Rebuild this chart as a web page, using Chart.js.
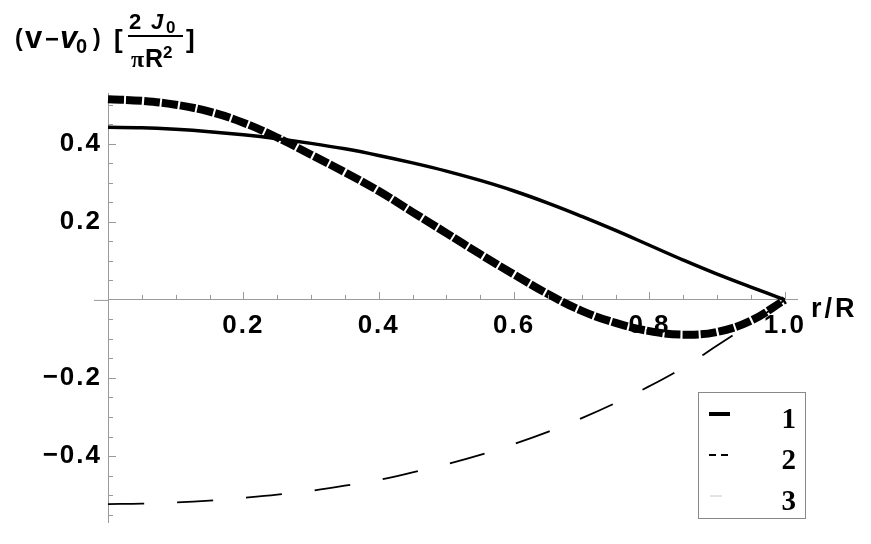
<!DOCTYPE html>
<html>
<head>
<meta charset="utf-8">
<script src="https://cdn.jsdelivr.net/npm/chart.js@4.4.1/dist/chart.umd.min.js"></script>
<style>
  html, body { margin: 0; padding: 0; background: #fff; }
  #wrap { width: 871px; height: 544px; position: relative; }
</style>
</head>
<body>
<div id="wrap"><canvas id="flowChart"></canvas></div>
<script>
'use strict'

// r/R sample points
const radius = [0, 0.05, 0.1, 0.15, 0.2, 0.25, 0.3, 0.35, 0.4, 0.45, 0.5,
                0.55, 0.6, 0.65, 0.7, 0.75, 0.8, 0.85, 0.9, 0.95, 1.0];

// curve 1 (solid)
const curve1 = [0.442, 0.441, 0.437, 0.431, 0.423, 0.413, 0.401, 0.387, 0.370, 0.351, 0.330,
                0.306, 0.279, 0.248, 0.214, 0.178, 0.140, 0.102, 0.066, 0.033, 0];
// curve 2 (thick dashed)
const curve2 = [0.514, 0.510, 0.500, 0.482, 0.454, 0.416, 0.372, 0.327, 0.279, 0.225, 0.171,
                0.117, 0.065, 0.015, -0.028, -0.059, -0.080, -0.089, -0.082, -0.053, 0];
// curve 3 (long dashed)
const curve3 = [-0.523, -0.522, -0.519, -0.514, -0.507, -0.499, -0.489, -0.476, -0.461, -0.442, -0.421,
                -0.397, -0.369, -0.338, -0.303, -0.264, -0.221, -0.173, -0.117, -0.060, 0];

const xTickLabels = [0.2, 0.4, 0.6, 0.8, 1.0];
const yTickLabels = [-0.4, -0.2, 0.2, 0.4];
const legendLabels = ['1', '2', '3'];

const sans = '"Liberation Sans", Arial, sans-serif';
const serif = '"Liberation Serif", "Times New Roman", serif';

function points(ys) {
    return radius.map((r, i) => ({ x: r, y: ys[i] }));
}

// minor ticks every 0.05
function minorTicks(min, max) {
    const out = [];
    for (let k = Math.ceil(min / 0.05); k * 0.05 <= max + 1e-9; k++) {
        out.push(Math.round(k * 5) / 100);
    }
    return out;
}

// ticks, axis label, legend
const decorPlugin = {
    id: 'decor',
    beforeDraw(chart) {
        // the tick labels are spaced wider than plain Arial
        chart.ctx.letterSpacing = '2px';
    },
    afterDraw(chart) {
        const ctx = chart.ctx;
        const xs = chart.scales.x;
        const ys = chart.scales.y;
        const x0 = xs.getPixelForValue(0);
        const y0 = ys.getPixelForValue(0);
        const isMajor = (v, list) => list.some(t => Math.abs(t - v) < 1e-6);

        ctx.save();
        ctx.letterSpacing = '0px';
        ctx.strokeStyle = '#9a9a9a';
        ctx.lineWidth = 1;
        ctx.beginPath();
        // small stub of x axis left of y axis
        ctx.moveTo(x0 - 14, y0 + 0.5);
        ctx.lineTo(x0, y0 + 0.5);
        minorTicks(-0.55, 0.5).forEach(v => {
            if (Math.abs(v) < 1e-6) return;
            const py = Math.round(ys.getPixelForValue(v)) + 0.5;
            const len = isMajor(v, yTickLabels) ? 8 : 5;
            ctx.moveTo(x0, py);
            ctx.lineTo(x0 + len, py);
        });
        minorTicks(0.05, 1.0).forEach(v => {
            const px = Math.round(xs.getPixelForValue(v)) + 0.5;
            const len = isMajor(v, xTickLabels) ? 8 : 5;
            ctx.moveTo(px, y0);
            ctx.lineTo(px, y0 - len);
        });
        ctx.stroke();

        // y axis label: (v - v0) [2 J0 / pi R^2]
        ctx.fillStyle = '#000';
        ctx.textBaseline = 'alphabetic';
        ctx.textAlign = 'left';
        ctx.font = 'bold 23px ' + sans;
        ctx.fillText('(', 15, 46);
        ctx.font = 'bold 31px ' + sans;
        ctx.fillText('v', 25, 48);
        ctx.font = 'bold 24px ' + sans;
        ctx.fillText('\u2212', 45, 47);
        ctx.font = 'italic bold 31px ' + sans;
        ctx.fillText('v', 60, 48);
        ctx.font = 'bold 20px ' + sans;
        ctx.fillText('0', 76, 53);
        ctx.font = 'bold 23px ' + sans;
        ctx.fillText(')', 93, 46);
        ctx.font = 'bold 26px ' + sans;
        ctx.fillText('[', 114, 48);
        ctx.fillText(']', 186, 48);
        ctx.font = 'bold 22px ' + sans;
        ctx.fillText('2', 129, 29);
        ctx.font = 'italic bold 22px ' + sans;
        ctx.fillText('J', 151, 29);
        ctx.font = 'bold 17px ' + sans;
        ctx.fillText('0', 166, 33);
        ctx.fillRect(128, 35, 55, 2);
        ctx.font = 'bold 24px ' + serif;
        ctx.fillText('\u03c0', 131, 67);
        ctx.font = 'bold 25px ' + sans;
        ctx.fillText('R', 145, 67);
        ctx.font = 'bold 17px ' + sans;
        ctx.fillText('2', 163, 58);

        // x axis label
        ctx.font = 'bold 27px ' + sans;
        ctx.letterSpacing = '3px';
        ctx.fillText('r/R', 811, 317);
        ctx.letterSpacing = '0px';

        // legend
        const bx = 698, by = 392, bw = 107, bh = 126;
        ctx.fillStyle = '#fff';
        ctx.fillRect(bx, by, bw, bh);
        ctx.strokeStyle = '#888';
        ctx.lineWidth = 1;
        ctx.strokeRect(bx + 0.5, by + 0.5, bw, bh);
        const rows = [414, 455, 496];
        ctx.lineCap = 'butt';
        // 1
        ctx.strokeStyle = '#000';
        ctx.lineWidth = 4;
        ctx.beginPath(); ctx.moveTo(709, rows[0]); ctx.lineTo(730, rows[0]); ctx.stroke();
        // 2
        ctx.lineWidth = 2;
        ctx.setLineDash([7, 5]);
        ctx.beginPath(); ctx.moveTo(709, rows[1]); ctx.lineTo(728, rows[1]); ctx.stroke();
        ctx.setLineDash([]);
        // 3
        ctx.strokeStyle = '#c8c8c8';
        ctx.lineWidth = 1;
        ctx.beginPath(); ctx.moveTo(710, rows[2]); ctx.lineTo(722, rows[2]); ctx.stroke();

        ctx.fillStyle = '#000';
        ctx.font = 'bold 29px ' + serif;
        ctx.textAlign = 'right';
        ctx.textBaseline = 'alphabetic';
        legendLabels.forEach((t, i) => ctx.fillText(t, 796, rows[i] + 14));
        ctx.restore();
    }
};

const ctx = document.getElementById('flowChart').getContext('2d');
const flowChart = new Chart(ctx, {
    type: 'line',
    data: {
        datasets: [
            {
                label: legendLabels[1],
                data: points(curve2),
                borderColor: '#000',
                borderWidth: 8,
                borderDash: [16, 2],
                borderCapStyle: 'butt',
                order: 0
            },
            {
                label: legendLabels[0],
                data: points(curve1),
                borderColor: '#000',
                borderWidth: 3.5,
                order: 1
            },
            {
                label: legendLabels[2],
                data: points(curve3),
                borderColor: '#000',
                borderWidth: 1.8,
                borderDash: [36, 33],
                order: 2
            }
        ]
    },
    options: {
        responsive: true,
        maintainAspectRatio: false,
        animation: false,
        clip: false,
        layout: { padding: { left: 0, right: 74, top: 93, bottom: 11 } },
        elements: {
            point: { radius: 0 },
            line: { tension: 0.4, fill: false }
        },
        plugins: {
            legend: { display: false },
            tooltip: { enabled: false }
        },
        scales: {
            x: {
                type: 'linear',
                min: 0,
                max: 1.018,
                position: { y: 0 },
                afterBuildTicks: scale => { scale.ticks = xTickLabels.map(v => ({ value: v })); },
                ticks: {
                    color: '#000',
                    font: { family: sans, size: 26, weight: 'bold' },
                    padding: 10,
                    maxRotation: 0,
                    autoSkip: false,
                    callback: v => v.toFixed(1)
                },
                grid: { display: false, drawTicks: false, tickLength: 0 },
                border: { display: true, color: '#9a9a9a', width: 1 }
            },
            y: {
                type: 'linear',
                min: -0.57,
                max: 0.53,
                afterFit: scale => { scale.width = 108; },
                afterBuildTicks: scale => { scale.ticks = yTickLabels.map(v => ({ value: v })); },
                ticks: {
                    color: '#000',
                    font: { family: sans, size: 26, weight: 'bold' },
                    padding: 6,
                    autoSkip: false,
                    callback: v => (v < 0 ? '\u2212' : '') + Math.abs(v).toFixed(1)
                },
                grid: { display: false, drawTicks: false, tickLength: 0 },
                border: { display: true, color: '#9a9a9a', width: 1 }
            }
        }
    },
    plugins: [decorPlugin]
});
</script>
</body>
</html>
